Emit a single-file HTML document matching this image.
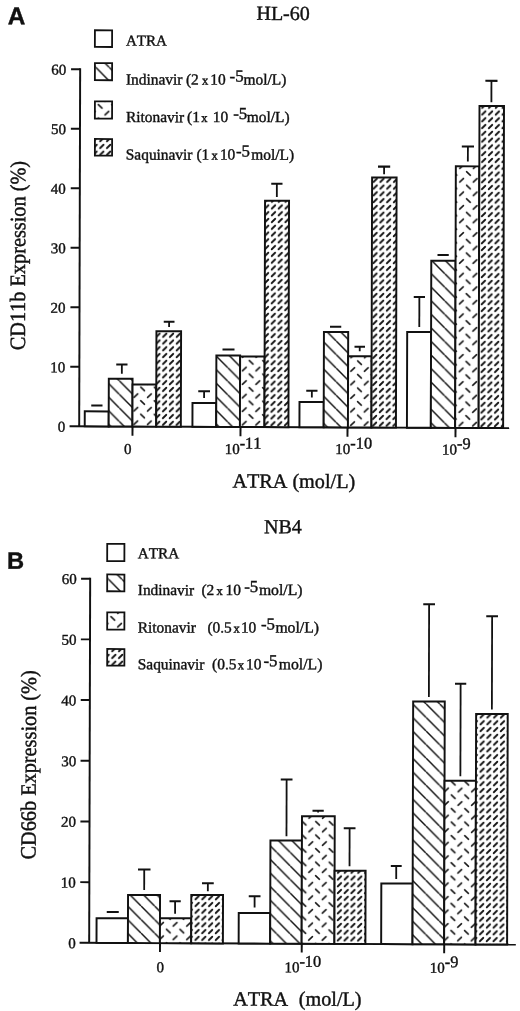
<!DOCTYPE html>
<html lang="en"><head><meta charset="utf-8"><title>Figure</title>
<style>html,body{margin:0;padding:0;background:#fff}svg{display:block;filter:grayscale(1)}text{font-family:'Liberation Serif', serif;fill:#111;stroke:#111;stroke-width:0.4px;font-kerning:none}</style>
</head><body>
<svg width="520" height="1011" viewBox="0 0 520 1011">
<rect width="520" height="1011" fill="#fff"/>
<defs>
<pattern id="pIndA" patternUnits="userSpaceOnUse" width="13.55" height="13.55" patternTransform="translate(430.67 381.38)"><rect width="13.55" height="13.55" fill="#fff"/><path d="M0 0L13.55 13.55M0 -13.55L13.55 0M0 13.55L13.55 27.1" stroke="#111" stroke-width="1.45" fill="none"/></pattern>
<pattern id="pRitA" patternUnits="userSpaceOnUse" width="13.55" height="13.55" patternTransform="translate(457.37 379.26)"><rect width="13.55" height="13.55" fill="#fff"/><path d="M1.50 5.15L5.30 1.65M8.28 8.43L12.08 11.93" stroke="#111" stroke-width="1.55" stroke-linecap="round" fill="none"/></pattern>
<pattern id="pSaqA" patternUnits="userSpaceOnUse" width="6.775" height="6.775" patternTransform="translate(479.37 372.88)"><rect width="6.775" height="6.775" fill="#fff"/><path d="M1.69 5.09L5.09 1.69" stroke="#111" stroke-width="1.8" stroke-linecap="round" fill="none"/></pattern>
<pattern id="pIndB" patternUnits="userSpaceOnUse" width="13.55" height="13.55" patternTransform="translate(413.18 865.86)"><rect width="13.55" height="13.55" fill="#fff"/><path d="M0 0L13.55 13.55M0 -13.55L13.55 0M0 13.55L13.55 27.1" stroke="#111" stroke-width="1.45" fill="none"/></pattern>
<pattern id="pRitB" patternUnits="userSpaceOnUse" width="13.55" height="13.55" patternTransform="translate(457.37 379.26)"><rect width="13.55" height="13.55" fill="#fff"/><path d="M1.50 5.15L5.30 1.65M8.28 8.43L12.08 11.93" stroke="#111" stroke-width="1.55" stroke-linecap="round" fill="none"/></pattern>
<pattern id="pSaqB" patternUnits="userSpaceOnUse" width="6.775" height="6.775" patternTransform="translate(479.37 372.88)"><rect width="6.775" height="6.775" fill="#fff"/><path d="M1.69 5.09L5.09 1.69" stroke="#111" stroke-width="1.8" stroke-linecap="round" fill="none"/></pattern>
</defs>
<g transform="matrix(1 0.0042 -0.0027 1 1.3635 -1.0920)">
<line x1="78.98" y1="69.03" x2="78.98" y2="427.06" stroke="#111" stroke-width="1.95"/>
<line x1="69.38" y1="427.06" x2="508.99" y2="427.06" stroke="#111" stroke-width="1.95"/>
<line x1="69.88" y1="367.55" x2="78.98" y2="367.55" stroke="#111" stroke-width="1.95"/>
<line x1="69.88" y1="308.04" x2="78.98" y2="308.04" stroke="#111" stroke-width="1.95"/>
<line x1="69.88" y1="248.53" x2="78.98" y2="248.53" stroke="#111" stroke-width="1.95"/>
<line x1="69.88" y1="189.02" x2="78.98" y2="189.02" stroke="#111" stroke-width="1.95"/>
<line x1="69.88" y1="129.51" x2="78.98" y2="129.51" stroke="#111" stroke-width="1.95"/>
<line x1="69.88" y1="70.00" x2="78.98" y2="70.00" stroke="#111" stroke-width="1.95"/>
<text x="64.98" y="432.56" font-size="15" text-anchor="end">0</text>
<text x="64.98" y="373.05" font-size="15" text-anchor="end">10</text>
<text x="64.98" y="313.54" font-size="15" text-anchor="end">20</text>
<text x="64.98" y="254.03" font-size="15" text-anchor="end">30</text>
<text x="64.98" y="194.52" font-size="15" text-anchor="end">40</text>
<text x="64.98" y="135.01" font-size="15" text-anchor="end">50</text>
<text x="64.98" y="75.50" font-size="15" text-anchor="end">60</text>
<line x1="132.30" y1="427.06" x2="132.30" y2="436.36" stroke="#111" stroke-width="1.95"/>
<line x1="240.30" y1="427.06" x2="240.30" y2="436.36" stroke="#111" stroke-width="1.95"/>
<line x1="347.30" y1="427.06" x2="347.30" y2="436.36" stroke="#111" stroke-width="1.95"/>
<line x1="455.30" y1="427.06" x2="455.30" y2="436.36" stroke="#111" stroke-width="1.95"/>
<rect x="84.52" y="412.09" width="23.95" height="14.97" fill="#fff" stroke="#111" stroke-width="1.95"/>
<rect x="108.47" y="379.34" width="23.75" height="47.72" fill="url(#pIndA)" stroke="#111" stroke-width="1.95"/>
<rect x="132.22" y="384.99" width="23.75" height="42.07" fill="url(#pRitA)" stroke="#111" stroke-width="1.95"/>
<rect x="155.97" y="331.63" width="24.65" height="95.43" fill="url(#pSaqA)" stroke="#111" stroke-width="1.95"/>
<rect x="192.22" y="403.23" width="23.75" height="23.83" fill="#fff" stroke="#111" stroke-width="1.95"/>
<rect x="215.97" y="355.63" width="23.75" height="71.43" fill="url(#pIndA)" stroke="#111" stroke-width="1.95"/>
<rect x="239.72" y="356.53" width="24.50" height="70.53" fill="url(#pRitA)" stroke="#111" stroke-width="1.95"/>
<rect x="264.22" y="200.68" width="24.00" height="226.38" fill="url(#pSaqA)" stroke="#111" stroke-width="1.95"/>
<rect x="299.22" y="401.78" width="24.25" height="25.28" fill="#fff" stroke="#111" stroke-width="1.95"/>
<rect x="323.47" y="331.68" width="24.25" height="95.38" fill="url(#pIndA)" stroke="#111" stroke-width="1.95"/>
<rect x="347.72" y="355.83" width="23.50" height="71.23" fill="url(#pRitA)" stroke="#111" stroke-width="1.95"/>
<rect x="371.22" y="176.98" width="24.50" height="250.08" fill="url(#pSaqA)" stroke="#111" stroke-width="1.95"/>
<rect x="406.72" y="331.33" width="23.90" height="95.73" fill="#fff" stroke="#111" stroke-width="1.95"/>
<rect x="430.62" y="259.98" width="24.30" height="167.08" fill="url(#pIndA)" stroke="#111" stroke-width="1.95"/>
<rect x="454.92" y="165.43" width="23.50" height="261.63" fill="url(#pRitA)" stroke="#111" stroke-width="1.95"/>
<rect x="478.42" y="105.03" width="24.50" height="322.03" fill="url(#pSaqA)" stroke="#111" stroke-width="1.95"/>
<line x1="90.98" y1="406.19" x2="102.23" y2="406.19" stroke="#111" stroke-width="2.15"/>
<line x1="115.87" y1="365.08" x2="127.12" y2="365.08" stroke="#111" stroke-width="2.15"/>
<line x1="121.50" y1="365.08" x2="121.50" y2="374.33" stroke="#111" stroke-width="1.8"/>
<line x1="163.26" y1="322.13" x2="174.01" y2="322.13" stroke="#111" stroke-width="2.15"/>
<line x1="168.63" y1="322.13" x2="168.63" y2="327.38" stroke="#111" stroke-width="1.8"/>
<line x1="197.94" y1="391.48" x2="209.69" y2="391.48" stroke="#111" stroke-width="2.15"/>
<line x1="203.82" y1="391.48" x2="203.82" y2="398.23" stroke="#111" stroke-width="1.8"/>
<line x1="222.08" y1="349.63" x2="234.08" y2="349.63" stroke="#111" stroke-width="2.15"/>
<line x1="270.38" y1="183.68" x2="281.63" y2="183.68" stroke="#111" stroke-width="2.15"/>
<line x1="276.01" y1="183.68" x2="276.01" y2="196.93" stroke="#111" stroke-width="1.8"/>
<line x1="305.94" y1="390.53" x2="317.19" y2="390.53" stroke="#111" stroke-width="2.15"/>
<line x1="311.57" y1="390.53" x2="311.57" y2="397.28" stroke="#111" stroke-width="1.8"/>
<line x1="329.52" y1="326.43" x2="340.77" y2="326.43" stroke="#111" stroke-width="2.15"/>
<line x1="354.07" y1="346.33" x2="364.57" y2="346.33" stroke="#111" stroke-width="2.15"/>
<line x1="359.32" y1="346.33" x2="359.32" y2="350.83" stroke="#111" stroke-width="1.8"/>
<line x1="377.09" y1="166.08" x2="389.29" y2="166.08" stroke="#111" stroke-width="2.15"/>
<line x1="383.19" y1="166.08" x2="383.19" y2="173.68" stroke="#111" stroke-width="1.8"/>
<line x1="413.19" y1="296.33" x2="424.44" y2="296.33" stroke="#111" stroke-width="2.15"/>
<line x1="418.81" y1="296.33" x2="418.81" y2="326.33" stroke="#111" stroke-width="1.8"/>
<line x1="436.82" y1="254.23" x2="448.07" y2="254.23" stroke="#111" stroke-width="2.15"/>
<line x1="460.83" y1="145.63" x2="473.03" y2="145.63" stroke="#111" stroke-width="2.15"/>
<line x1="466.93" y1="145.63" x2="466.93" y2="160.53" stroke="#111" stroke-width="1.8"/>
<line x1="484.25" y1="79.83" x2="496.35" y2="79.83" stroke="#111" stroke-width="2.15"/>
<line x1="490.30" y1="79.83" x2="490.30" y2="101.23" stroke="#111" stroke-width="1.8"/>
<text x="6.50" y="25.31" font-size="24.3" text-anchor="start" font-weight="bold" style="font-family:'Liberation Sans',sans-serif;stroke-width:0.4px">A</text>
<text x="281.79" y="19.90" font-size="20" text-anchor="middle" >HL-60</text>
<text transform="translate(24.48 351.19) rotate(-90) scale(1 1.08)" font-size="20.3">CD11b Expression (%)</text>
<text x="127.56" y="454.56" font-size="15" text-anchor="middle" >0</text>
<text x="224.56" y="454.15" font-size="15">10<tspan dy="-5.6" font-size="16.3">-11</tspan></text>
<text x="335.16" y="453.68" font-size="15">10<tspan dy="-5.6" font-size="16.3">-10</tspan></text>
<text x="441.96" y="453.64" font-size="15">10<tspan dy="-5.6" font-size="16.3">-9</tspan></text>
<text x="293.75" y="487.66" font-size="20.2" text-anchor="middle" >ATRA (mol/L)</text>
<line x1="90.37" y1="578.44" x2="90.37" y2="943.56" stroke="#111" stroke-width="1.95"/>
<line x1="80.77" y1="943.56" x2="516.99" y2="943.56" stroke="#111" stroke-width="1.95"/>
<line x1="81.27" y1="882.87" x2="90.37" y2="882.87" stroke="#111" stroke-width="1.95"/>
<line x1="81.27" y1="822.18" x2="90.37" y2="822.18" stroke="#111" stroke-width="1.95"/>
<line x1="81.27" y1="761.49" x2="90.37" y2="761.49" stroke="#111" stroke-width="1.95"/>
<line x1="81.27" y1="700.80" x2="90.37" y2="700.80" stroke="#111" stroke-width="1.95"/>
<line x1="81.27" y1="640.11" x2="90.37" y2="640.11" stroke="#111" stroke-width="1.95"/>
<line x1="81.27" y1="579.42" x2="90.37" y2="579.42" stroke="#111" stroke-width="1.95"/>
<text x="76.87" y="949.06" font-size="15" text-anchor="end">0</text>
<text x="76.87" y="888.37" font-size="15" text-anchor="end">10</text>
<text x="76.87" y="827.68" font-size="15" text-anchor="end">20</text>
<text x="76.87" y="766.99" font-size="15" text-anchor="end">30</text>
<text x="76.87" y="706.30" font-size="15" text-anchor="end">40</text>
<text x="76.87" y="645.61" font-size="15" text-anchor="end">50</text>
<text x="76.87" y="584.92" font-size="15" text-anchor="end">60</text>
<line x1="161.19" y1="943.56" x2="161.19" y2="952.36" stroke="#111" stroke-width="1.95"/>
<line x1="302.94" y1="943.56" x2="302.94" y2="952.36" stroke="#111" stroke-width="1.95"/>
<line x1="445.39" y1="943.56" x2="445.39" y2="952.36" stroke="#111" stroke-width="1.95"/>
<rect x="97.69" y="918.87" width="31.40" height="24.69" fill="#fff" stroke="#111" stroke-width="1.95"/>
<rect x="129.09" y="895.49" width="32.00" height="48.07" fill="url(#pIndB)" stroke="#111" stroke-width="1.95"/>
<rect x="161.09" y="918.60" width="31.25" height="24.96" fill="url(#pRitB)" stroke="#111" stroke-width="1.95"/>
<rect x="192.34" y="895.22" width="31.75" height="48.34" fill="url(#pSaqB)" stroke="#111" stroke-width="1.95"/>
<rect x="239.84" y="913.02" width="31.50" height="30.54" fill="#fff" stroke="#111" stroke-width="1.95"/>
<rect x="271.34" y="840.39" width="31.50" height="103.17" fill="url(#pIndB)" stroke="#111" stroke-width="1.95"/>
<rect x="302.84" y="816.01" width="32.75" height="127.55" fill="url(#pRitB)" stroke="#111" stroke-width="1.95"/>
<rect x="335.59" y="870.37" width="31.00" height="73.19" fill="url(#pSaqB)" stroke="#111" stroke-width="1.95"/>
<rect x="382.34" y="882.92" width="31.35" height="60.64" fill="#fff" stroke="#111" stroke-width="1.95"/>
<rect x="413.69" y="700.79" width="31.60" height="242.77" fill="url(#pIndB)" stroke="#111" stroke-width="1.95"/>
<rect x="445.29" y="779.91" width="31.40" height="163.65" fill="url(#pRitB)" stroke="#111" stroke-width="1.95"/>
<rect x="476.69" y="713.03" width="31.60" height="230.53" fill="url(#pSaqB)" stroke="#111" stroke-width="1.95"/>
<line x1="107.85" y1="912.62" x2="119.85" y2="912.62" stroke="#111" stroke-width="2.15"/>
<line x1="138.98" y1="869.99" x2="151.48" y2="869.99" stroke="#111" stroke-width="2.15"/>
<line x1="145.23" y1="869.99" x2="145.23" y2="890.49" stroke="#111" stroke-width="1.8"/>
<line x1="170.57" y1="901.61" x2="181.82" y2="901.61" stroke="#111" stroke-width="2.15"/>
<line x1="176.19" y1="901.61" x2="176.19" y2="914.11" stroke="#111" stroke-width="1.8"/>
<line x1="203.02" y1="883.47" x2="214.77" y2="883.47" stroke="#111" stroke-width="2.15"/>
<line x1="208.90" y1="883.47" x2="208.90" y2="891.47" stroke="#111" stroke-width="1.8"/>
<line x1="249.81" y1="896.27" x2="261.56" y2="896.27" stroke="#111" stroke-width="2.15"/>
<line x1="255.68" y1="896.27" x2="255.68" y2="907.52" stroke="#111" stroke-width="1.8"/>
<line x1="281.49" y1="779.39" x2="293.24" y2="779.39" stroke="#111" stroke-width="2.15"/>
<line x1="287.37" y1="779.39" x2="287.37" y2="836.14" stroke="#111" stroke-width="1.8"/>
<line x1="313.33" y1="810.51" x2="324.58" y2="810.51" stroke="#111" stroke-width="2.15"/>
<line x1="318.95" y1="810.51" x2="318.95" y2="812.26" stroke="#111" stroke-width="1.8"/>
<line x1="344.62" y1="827.87" x2="356.37" y2="827.87" stroke="#111" stroke-width="2.15"/>
<line x1="350.50" y1="827.87" x2="350.50" y2="865.87" stroke="#111" stroke-width="1.8"/>
<line x1="391.77" y1="865.43" x2="402.67" y2="865.43" stroke="#111" stroke-width="2.15"/>
<line x1="397.22" y1="865.43" x2="397.22" y2="878.43" stroke="#111" stroke-width="1.8"/>
<line x1="423.52" y1="603.54" x2="435.27" y2="603.54" stroke="#111" stroke-width="2.15"/>
<line x1="429.39" y1="603.54" x2="429.39" y2="696.29" stroke="#111" stroke-width="1.8"/>
<line x1="455.48" y1="682.91" x2="466.73" y2="682.91" stroke="#111" stroke-width="2.15"/>
<line x1="461.11" y1="682.91" x2="461.11" y2="775.41" stroke="#111" stroke-width="1.8"/>
<line x1="486.55" y1="615.28" x2="498.30" y2="615.28" stroke="#111" stroke-width="2.15"/>
<line x1="492.43" y1="615.28" x2="492.43" y2="708.53" stroke="#111" stroke-width="1.8"/>
<text x="7.17" y="569.81" font-size="23.7" text-anchor="start" font-weight="bold" style="font-family:'Liberation Sans',sans-serif;stroke-width:0.4px">B</text>
<text x="282.98" y="533.15" font-size="20" text-anchor="middle" >NB4</text>
<text transform="translate(36.56 860.44) rotate(-90) scale(1 1.08)" font-size="20.3">CD66b Expression (%)</text>
<text x="161.56" y="972.72" font-size="15" text-anchor="middle" >0</text>
<text x="285.66" y="972.20" font-size="15">10<tspan dy="-5.6" font-size="16.3">-10</tspan></text>
<text x="431.06" y="972.09" font-size="15">10<tspan dy="-5.6" font-size="16.3">-9</tspan></text>
<text x="234.55" y="1005.61" font-size="20.2" text-anchor="start" >ATRA</text>
<text x="300.15" y="1005.34" font-size="20.2" text-anchor="start" >(mol/L)</text>
</g>
<defs>
<pattern id="pIndLA" patternUnits="userSpaceOnUse" width="13.55" height="13.55" patternTransform="translate(94.52 67.99)"><rect width="13.55" height="13.55" fill="#fff"/><path d="M0 0L13.55 13.55M0 -13.55L13.55 0M0 13.55L13.55 27.1" stroke="#111" stroke-width="1.45" fill="none"/></pattern>
<pattern id="pRitLA" patternUnits="userSpaceOnUse" width="13.55" height="13.55" patternTransform="translate(102.44 110.39)"><rect width="13.55" height="13.55" fill="#fff"/><path d="M1.50 5.15L5.30 1.65M8.28 8.43L12.08 11.93" stroke="#111" stroke-width="1.55" stroke-linecap="round" fill="none"/></pattern>
<pattern id="pSaqLA" patternUnits="userSpaceOnUse" width="6.775" height="6.775" patternTransform="translate(97.49 143.68)"><rect width="6.775" height="6.775" fill="#fff"/><path d="M1.69 5.09L5.09 1.69" stroke="#111" stroke-width="1.8" stroke-linecap="round" fill="none"/></pattern>
<pattern id="pIndLB" patternUnits="userSpaceOnUse" width="13.55" height="13.55" patternTransform="translate(108.70 579.94)"><rect width="13.55" height="13.55" fill="#fff"/><path d="M0 0L13.55 13.55M0 -13.55L13.55 0M0 13.55L13.55 27.1" stroke="#111" stroke-width="1.45" fill="none"/></pattern>
<pattern id="pRitLB" patternUnits="userSpaceOnUse" width="13.55" height="13.55" patternTransform="translate(116.52 622.39)"><rect width="13.55" height="13.55" fill="#fff"/><path d="M1.50 5.15L5.30 1.65M8.28 8.43L12.08 11.93" stroke="#111" stroke-width="1.55" stroke-linecap="round" fill="none"/></pattern>
<pattern id="pSaqLB" patternUnits="userSpaceOnUse" width="6.775" height="6.775" patternTransform="translate(110.87 653.63)"><rect width="6.775" height="6.775" fill="#fff"/><path d="M1.69 5.09L5.09 1.69" stroke="#111" stroke-width="1.8" stroke-linecap="round" fill="none"/></pattern>
</defs>
<g transform="matrix(1 0.0042 -0.0027 1 1.3635 -1.0920)">
<rect x="93.64" y="30.96" width="17.20" height="16.65" fill="#fff" stroke="#111" stroke-width="1.8"/>
<rect x="93.73" y="63.76" width="17.20" height="17.10" fill="url(#pIndLA)" stroke="#111" stroke-width="1.8"/>
<rect x="93.83" y="102.06" width="17.20" height="17.20" fill="url(#pRitLA)" stroke="#111" stroke-width="1.8"/>
<rect x="93.93" y="139.66" width="17.20" height="16.60" fill="url(#pSaqLA)" stroke="#111" stroke-width="1.8"/>
<text x="124.76" y="46.06" font-size="15" text-anchor="start" >ATRA</text>
<text x="124.86" y="84.96" font-size="15.4" text-anchor="start" >Indinavir</text>
<text x="184.76" y="84.71" font-size="15.4" text-anchor="start" >(2</text>
<text x="200.86" y="84.64" font-size="12.5" text-anchor="start" >x</text>
<text x="209.16" y="84.61" font-size="15.4" text-anchor="start" >10</text>
<text x="228.46" y="81.53" font-size="16.8" text-anchor="start" >-5</text>
<text x="242.46" y="84.47" font-size="15.4" text-anchor="start" >mol/L)</text>
<text x="124.97" y="122.56" font-size="15.4" text-anchor="start" >Ritonavir</text>
<text x="185.97" y="122.31" font-size="15.4" text-anchor="start" >(1</text>
<text x="200.17" y="122.25" font-size="12.5" text-anchor="start" >x</text>
<text x="211.77" y="122.20" font-size="15.4" text-anchor="start" >10</text>
<text x="232.16" y="119.11" font-size="16.8" text-anchor="start" >-5</text>
<text x="245.77" y="122.06" font-size="15.4" text-anchor="start" >mol/L)</text>
<text x="124.87" y="160.16" font-size="15.4" text-anchor="start" >Saquinavir</text>
<text x="195.57" y="159.87" font-size="15.4" text-anchor="start" >(1</text>
<text x="210.57" y="159.80" font-size="12.5" text-anchor="start" >x</text>
<text x="218.97" y="159.77" font-size="15.4" text-anchor="start" >10</text>
<text x="235.06" y="156.70" font-size="16.8" text-anchor="start" >-5</text>
<text x="250.37" y="159.64" font-size="15.4" text-anchor="start" >mol/L)</text>
<rect x="107.33" y="544.51" width="17.20" height="17.20" fill="#fff" stroke="#111" stroke-width="1.8"/>
<rect x="107.41" y="575.11" width="17.20" height="16.80" fill="url(#pIndLB)" stroke="#111" stroke-width="1.8"/>
<rect x="107.51" y="613.01" width="17.20" height="17.20" fill="url(#pRitLB)" stroke="#111" stroke-width="1.8"/>
<rect x="107.61" y="649.61" width="17.20" height="16.60" fill="url(#pSaqLB)" stroke="#111" stroke-width="1.8"/>
<text x="137.94" y="558.76" font-size="15.2" text-anchor="start" >ATRA</text>
<text x="138.04" y="595.51" font-size="15.4" text-anchor="start" >Indinavir</text>
<text x="201.64" y="595.25" font-size="15.4" text-anchor="start" >(2</text>
<text x="216.84" y="595.18" font-size="12.5" text-anchor="start" >x</text>
<text x="225.84" y="595.14" font-size="15.4" text-anchor="start" >10</text>
<text x="244.43" y="592.07" font-size="16.8" text-anchor="start" >-5</text>
<text x="259.14" y="595.00" font-size="15.7" text-anchor="start" >mol/L)</text>
<text x="138.14" y="632.91" font-size="15.4" text-anchor="start" >Ritonavir</text>
<text x="207.74" y="632.62" font-size="15.4" text-anchor="start" >(0.5</text>
<text x="233.84" y="632.51" font-size="12.5" text-anchor="start" >x</text>
<text x="241.24" y="632.48" font-size="15.4" text-anchor="start" >10</text>
<text x="261.34" y="629.40" font-size="16.8" text-anchor="start" >-5</text>
<text x="275.74" y="632.34" font-size="15.7" text-anchor="start" >mol/L)</text>
<text x="138.24" y="669.71" font-size="15.4" text-anchor="start" >Saquinavir</text>
<text x="212.54" y="669.40" font-size="15.4" text-anchor="start" >(0.5</text>
<text x="238.24" y="669.29" font-size="12.5" text-anchor="start" >x</text>
<text x="246.44" y="669.26" font-size="15.4" text-anchor="start" >10</text>
<text x="263.84" y="666.19" font-size="16.8" text-anchor="start" >-5</text>
<text x="279.24" y="669.12" font-size="15.7" text-anchor="start" >mol/L)</text>
</g>
</svg>
</body></html>
